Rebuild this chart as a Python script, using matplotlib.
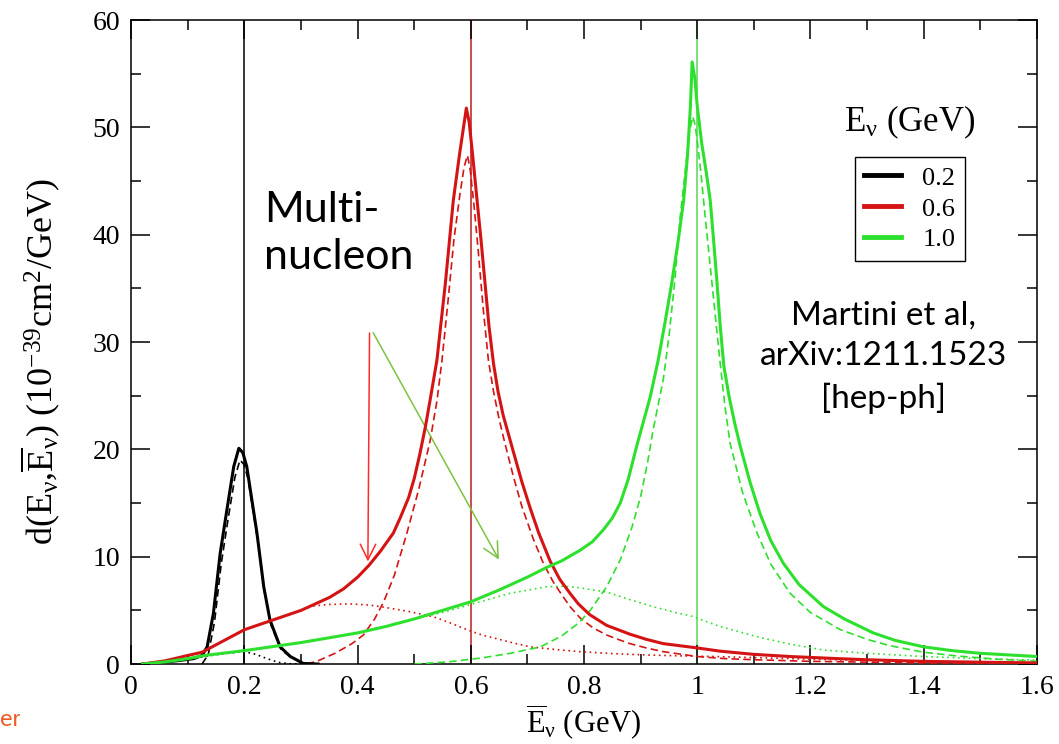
import matplotlib
matplotlib.use("Agg")
import matplotlib.pyplot as plt
from matplotlib.lines import Line2D
from matplotlib.ticker import MultipleLocator
from matplotlib.transforms import Bbox, TransformedBbox

plt.rcParams["font.family"] = ["Liberation Serif", "DejaVu Serif"]
plt.rcParams["mathtext.fontset"] = "custom"
plt.rcParams["mathtext.rm"] = "Liberation Serif"
plt.rcParams["mathtext.it"] = "Liberation Serif:italic"
plt.rcParams["mathtext.bf"] = "Liberation Serif:bold"

# ---- reconstructed-energy distributions for three true energies ----
# E_nu = 0.2 GeV
x_02_tot = [0.02, 0.05, 0.08, 0.11, 0.125, 0.134, 0.145, 0.157, 0.169, 0.181, 0.19, 0.197,
            0.204, 0.213, 0.222, 0.234, 0.245, 0.263, 0.281, 0.304, 0.33]
y_02_tot = [0.0, 0.15, 0.3, 0.5, 0.8, 1.6, 4.7, 10.3, 14.4, 18.4, 20.1, 19.7,
            18.4, 15.3, 12.2, 7.2, 4.1, 1.6, 0.7, 0.05, 0.0]
x_02_qe = [0.125, 0.136, 0.147, 0.159, 0.171, 0.183, 0.192, 0.199, 0.206, 0.215, 0.224,
           0.236, 0.247, 0.265, 0.283, 0.305, 0.33]
y_02_qe = [0.0, 0.9, 3.9, 9.4, 13.5, 17.4, 19.0, 18.6, 17.3, 14.3, 11.3,
           6.5, 3.6, 1.3, 0.6, 0.05, 0.0]
x_02_np = [0.02, 0.06, 0.10, 0.13, 0.16, 0.20, 0.22, 0.24, 0.26, 0.28, 0.30]
y_02_np = [0.0, 0.2, 0.45, 0.7, 0.95, 1.15, 0.9, 0.5, 0.15, 0.03, 0.0]

# E_nu = 0.6 GeV
x_06_tot = [0.02, 0.06, 0.10, 0.125, 0.15, 0.20, 0.25, 0.30, 0.35, 0.375, 0.40, 0.42,
            0.44, 0.463, 0.475, 0.49, 0.50, 0.51, 0.52, 0.528, 0.54, 0.555, 0.569, 0.58,
            0.592, 0.597, 0.603, 0.611, 0.618, 0.625, 0.632, 0.64, 0.648, 0.657, 0.666,
            0.675, 0.69, 0.705, 0.72, 0.74, 0.757, 0.775, 0.79, 0.81, 0.84, 0.88, 0.91,
            0.94, 1.0, 1.04, 1.1, 1.164, 1.25, 1.3, 1.4, 1.5, 1.6]
y_06_tot = [0.0, 0.3, 0.8, 1.1, 1.8, 3.2, 4.1, 5.0, 6.2, 7.0, 8.1, 9.2,
            10.5, 12.2, 13.6, 15.5, 17.3, 19.6, 22.2, 24.6, 28.3, 35.5, 43.2, 47.5,
            51.8, 50.5, 47.5, 43.2, 39.5, 35.5, 31.5, 28.0, 25.4, 23.2, 21.5,
            19.8, 17.0, 14.5, 12.2, 9.6, 7.9, 6.6, 5.6, 4.6, 3.6, 2.8, 2.3,
            1.9, 1.5, 1.2, 0.9, 0.7, 0.5, 0.4, 0.25, 0.17, 0.1]
x_06_qe = [0.31, 0.33, 0.36, 0.39, 0.41, 0.43, 0.446, 0.465, 0.487, 0.508, 0.528, 0.54,
           0.549, 0.56, 0.57, 0.58, 0.588, 0.594, 0.599, 0.606, 0.613, 0.622, 0.631, 0.64,
           0.65, 0.66, 0.675, 0.69, 0.71, 0.728, 0.745, 0.76, 0.776, 0.793, 0.815, 0.84,
           0.86, 0.881, 0.91, 0.94, 1.0, 1.05, 1.1, 1.2, 1.4, 1.6]
y_06_qe = [0.0, 0.3, 1.0, 1.9, 2.7, 4.2, 5.8, 8.3, 12.2, 16.3, 20.8, 24.5,
           28.3, 34.0, 39.5, 43.5, 46.3, 47.4, 46.0, 42.5, 38.5, 33.0, 28.3, 25.4,
           22.8, 20.6, 17.5, 14.7, 11.7, 9.4, 7.7, 6.5, 5.3, 4.3, 3.4, 2.7,
           2.3, 1.9, 1.5, 1.15, 0.7, 0.5, 0.4, 0.25, 0.1, 0.05]
x_06_np = [0.02, 0.06, 0.10, 0.125, 0.15, 0.20, 0.25, 0.30, 0.32, 0.35, 0.387, 0.42,
           0.446, 0.49, 0.534, 0.565, 0.593, 0.62, 0.65, 0.68, 0.705, 0.75, 0.793, 0.85,
           0.911, 0.97, 1.03, 1.1, 1.2, 1.3, 1.4, 1.6]
y_06_np = [0.0, 0.3, 0.8, 1.1, 1.8, 3.2, 4.1, 5.0, 5.4, 5.55, 5.6, 5.5,
           5.3, 4.9, 4.4, 3.8, 3.2, 2.7, 2.3, 1.9, 1.6, 1.35, 1.15, 0.97,
           0.84, 0.76, 0.7, 0.6, 0.45, 0.33, 0.25, 0.15]

# E_nu = 1.0 GeV
x_10_tot = [0.02, 0.06, 0.10, 0.13, 0.20, 0.30, 0.40, 0.45, 0.50, 0.55, 0.60, 0.65,
            0.70, 0.734, 0.76, 0.793, 0.815, 0.834, 0.85, 0.864, 0.878, 0.893, 0.905,
            0.917, 0.931, 0.943, 0.955, 0.966, 0.976, 0.983, 0.988, 0.991, 0.996, 1.0,
            1.008, 1.016, 1.023, 1.03, 1.035, 1.041, 1.047, 1.056, 1.066, 1.076, 1.093,
            1.111, 1.13, 1.152, 1.18, 1.223, 1.26, 1.311, 1.35, 1.4, 1.45, 1.5, 1.55, 1.6]
y_10_tot = [0.0, 0.2, 0.5, 0.8, 1.25, 2.0, 2.9, 3.5, 4.2, 5.0, 5.8, 6.9,
            8.1, 9.0, 9.6, 10.6, 11.4, 12.5, 13.6, 15.0, 17.2, 20.3, 22.6,
            24.9, 28.3, 31.8, 35.5, 39.3, 43.2, 47.5, 52.0, 56.1, 54.5, 52.0,
            48.5, 45.8, 43.2, 38.8, 35.5, 31.3, 27.8, 25.0, 22.5, 20.3, 17.0,
            14.0, 11.5, 9.4, 7.4, 5.35, 4.2, 2.9, 2.2, 1.6, 1.25, 1.0, 0.85, 0.7]
x_10_qe = [0.50, 0.56, 0.617, 0.67, 0.723, 0.76, 0.79, 0.811, 0.84, 0.864, 0.885, 0.90,
           0.912, 0.922, 0.94, 0.95, 0.96, 0.97, 0.98, 0.986, 0.992, 0.996, 1.0, 1.007,
           1.014, 1.027, 1.04, 1.049, 1.058, 1.08, 1.105, 1.13, 1.164, 1.2, 1.253, 1.3,
           1.341, 1.4, 1.459, 1.53, 1.6]
y_10_qe = [0.0, 0.2, 0.55, 1.0, 1.6, 2.6, 3.8, 5.0, 7.2, 9.7, 12.8, 15.6,
           18.7, 21.8, 26.5, 30.5, 35.5, 41.7, 46.5, 49.5, 51.0, 50.3, 48.8, 45.5,
           41.7, 35.0, 28.3, 24.0, 20.6, 16.0, 12.3, 9.3, 6.6, 4.8, 3.2, 2.3,
           1.7, 1.1, 0.75, 0.45, 0.25]
x_10_np = [0.02, 0.06, 0.10, 0.13, 0.20, 0.30, 0.40, 0.50, 0.55, 0.617, 0.67, 0.734,
           0.765, 0.793, 0.84, 0.881, 0.925, 0.969, 0.988, 1.04, 1.105, 1.16, 1.223,
           1.3, 1.4, 1.5, 1.6]
y_10_np = [0.0, 0.2, 0.5, 0.8, 1.25, 2.0, 2.9, 4.2, 4.8, 5.8, 6.6, 7.2,
           7.25, 7.1, 6.7, 6.0, 5.3, 4.7, 4.5, 3.5, 2.55, 1.9, 1.3,
           1.0, 0.7, 0.5, 0.37]

energies = [0.2, 0.6, 1.0]
energy_labels = ["0.2", "0.6", "1.0"]
colors = ["black", "#d41414", "#2ee02e"]
vline_colors = ["black", "#b81c1c", "#55d855"]

fig = plt.figure(figsize=(10.59, 7.44), dpi=100)
ax = fig.add_axes([0.124, 0.1075, 0.855, 0.8655])

curves = [
    (x_02_tot, y_02_tot, x_02_qe, y_02_qe, x_02_np, y_02_np),
    (x_06_tot, y_06_tot, x_06_qe, y_06_qe, x_06_np, y_06_np),
    (x_10_tot, y_10_tot, x_10_qe, y_10_qe, x_10_np, y_10_np),
]

for e, vc in zip(energies, vline_colors):
    ax.axvline(e, color=vc, lw=1.1, zorder=1)

for (xt, yt, xq, yq, xn, yn), c in zip(curves, colors):
    ax.plot(xn, yn, color=c, lw=1.2, ls=(0, (1, 2.2)), zorder=2)
    ax.plot(xq, yq, color=c, lw=1.2, ls=(0, (4.5, 2.5)), zorder=3)
    ax.plot(xt, yt, color=c, lw=2.2, zorder=4, solid_joinstyle="round")

ax.set_xlim(0, 1.6)
ax.set_ylim(0, 60)
ax.xaxis.set_major_locator(MultipleLocator(0.2))
ax.xaxis.set_minor_locator(MultipleLocator(0.1))
ax.yaxis.set_major_locator(MultipleLocator(10))
ax.yaxis.set_minor_locator(MultipleLocator(5))
ax.set_xticks([0, 0.2, 0.4, 0.6, 0.8, 1.0, 1.2, 1.4, 1.6])
ax.set_xticklabels(["0", "0.2", "0.4", "0.6", "0.8", "1", "1.2", "1.4", "1.6"])
ax.tick_params(which="both", direction="in", top=True, right=True, width=1.1,
               labelsize=20)
ax.tick_params(which="major", length=14, pad=8)
ax.tick_params(which="minor", length=7)
for s in ax.spines.values():
    s.set_linewidth(1.1)

nu = r"_{\mathrm{ν}}"
ax.set_xlabel(r"$\overline{\mathrm{E}}" + nu + "$ (GeV)", fontsize=22, labelpad=2)
ax.set_ylabel(r"d(E$" + nu + r"$,$\overline{\mathrm{E}}" + nu +
              r"$) (10$^{-39}$cm$^2$/GeV)", fontsize=26)
ax.yaxis.set_label_coords(-0.075, 0.47)

# legend with its title sitting above the frame
handles = [Line2D([], [], color=c, lw=3.5) for c in colors]
leg = ax.legend(handles, energy_labels, loc="upper left",
                bbox_to_anchor=(855 / 1059, 1 - 157 / 744),
                bbox_transform=fig.transFigure, fontsize=19,
                handlelength=1.4, handletextpad=0.8, labelspacing=0.28,
                borderpad=0.35, borderaxespad=0, fancybox=False,
                framealpha=1, edgecolor="black")
leg.get_frame().set_linewidth(1.0)
fig.text(910 / 1059, 1 - 131 / 744, "E$" + nu + "$ (GeV)", fontsize=25,
         ha="center", va="baseline")

# slide annotations
sans = ["Lato", "DejaVu Sans"]
ax.text(0.235, 36.8, "Multi-\nnucleon", fontsize=31, family=sans,
        ha="left", va="baseline", linespacing=1.3)
ax.text(1.33, 23.9, "Martini et al,\narXiv:1211.1523\n[hep-ph]", fontsize=24,
        family=sans, ha="center", va="baseline", linespacing=1.45)

ax.annotate("", xy=(0.418, 9.3), xytext=(0.421, 31.1),
            arrowprops=dict(arrowstyle="->", color="#ff2a2a", lw=1.1,
                            mutation_scale=28))
ax.annotate("", xy=(0.652, 9.5), xytext=(0.425, 31.1),
            arrowprops=dict(arrowstyle="->", color="#7cc242", lw=1.1,
                            mutation_scale=28))

# leftover slide text at the edge
t = fig.text(0.0, 1 - 726 / 744, "era", fontsize=17, color="#ef5a28",
             family=sans, ha="left", va="baseline")
t.set_clip_box(TransformedBbox(Bbox([[0, 0], [20 / 1059, 1]]), fig.transFigure))
t.set_clip_on(True)

fig.savefig("out.png", dpi=100, facecolor="white")
